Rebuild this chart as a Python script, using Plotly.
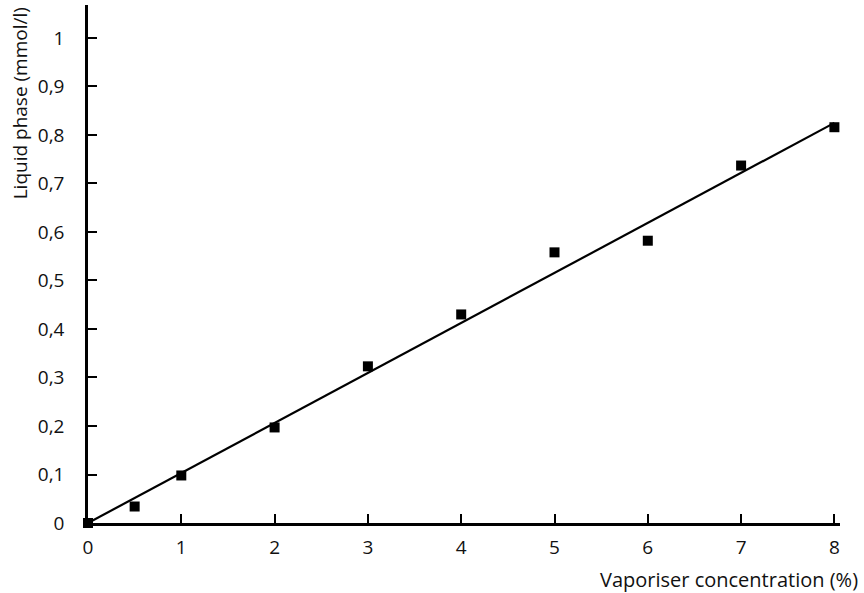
import plotly.graph_objects as go

# Measured liquid-phase concentration vs vaporiser setting
vaporiser_pct = [0, 0.5, 1, 2, 3, 4, 5, 6, 7, 8]
liquid_mmol = [0.0, 0.034, 0.098, 0.197, 0.323, 0.43, 0.558, 0.582, 0.737, 0.816]

# Fitted regression line endpoints
fit_x = [0, 8]
fit_y = [0.0, 0.825]

x_ticks = [0, 1, 2, 3, 4, 5, 6, 7, 8]
y_ticks = [0, 0.1, 0.2, 0.3, 0.4, 0.5, 0.6, 0.7, 0.8, 0.9, 1.0]
y_ticktext = ["0", "0,1", "0,2", "0,3", "0,4", "0,5", "0,6", "0,7", "0,8", "0,9", "1"]

FONT = "Open Sans"
INK = "#111111"

fig = go.Figure()
fig.add_trace(go.Scatter(
    x=fit_x, y=fit_y, mode="lines",
    line=dict(color="black", width=2.2),
    cliponaxis=False, hoverinfo="skip",
))
fig.add_trace(go.Scatter(
    x=vaporiser_pct, y=liquid_mmol, mode="markers",
    marker=dict(symbol="square", size=10, color="black"),
    cliponaxis=False,
))

axis_common = dict(
    showgrid=False, zeroline=False, showline=True, linecolor="black", linewidth=2.5,
    ticks="inside", ticklen=9, tickwidth=2, tickcolor="black",
    tickfont=dict(family=FONT, size=19, color=INK),
)

fig.update_layout(
    width=864, height=593,
    margin=dict(l=88, r=24, t=5, b=70),
    plot_bgcolor="white", paper_bgcolor="white",
    showlegend=False,
    xaxis=dict(range=[0, 8.06], tickvals=x_ticks, ticklabelstandoff=5, **axis_common),
    yaxis=dict(range=[0, 1.068], tickvals=y_ticks, ticktext=y_ticktext,
               ticklabelstandoff=17, **axis_common),
    annotations=[
        dict(text="Liquid phase (mmol/l)", textangle=-90, xref="paper", yref="paper",
             x=-0.09, y=1.0, xanchor="center", yanchor="top", showarrow=False,
             font=dict(family=FONT, size=19, color=INK)),
        dict(text="Vaporiser concentration (%)", xref="paper", yref="paper",
             x=1.026, y=-0.11, xanchor="right", yanchor="middle", showarrow=False,
             font=dict(family=FONT, size=20, color=INK)),
    ],
)

fig.write_html("out.html")
